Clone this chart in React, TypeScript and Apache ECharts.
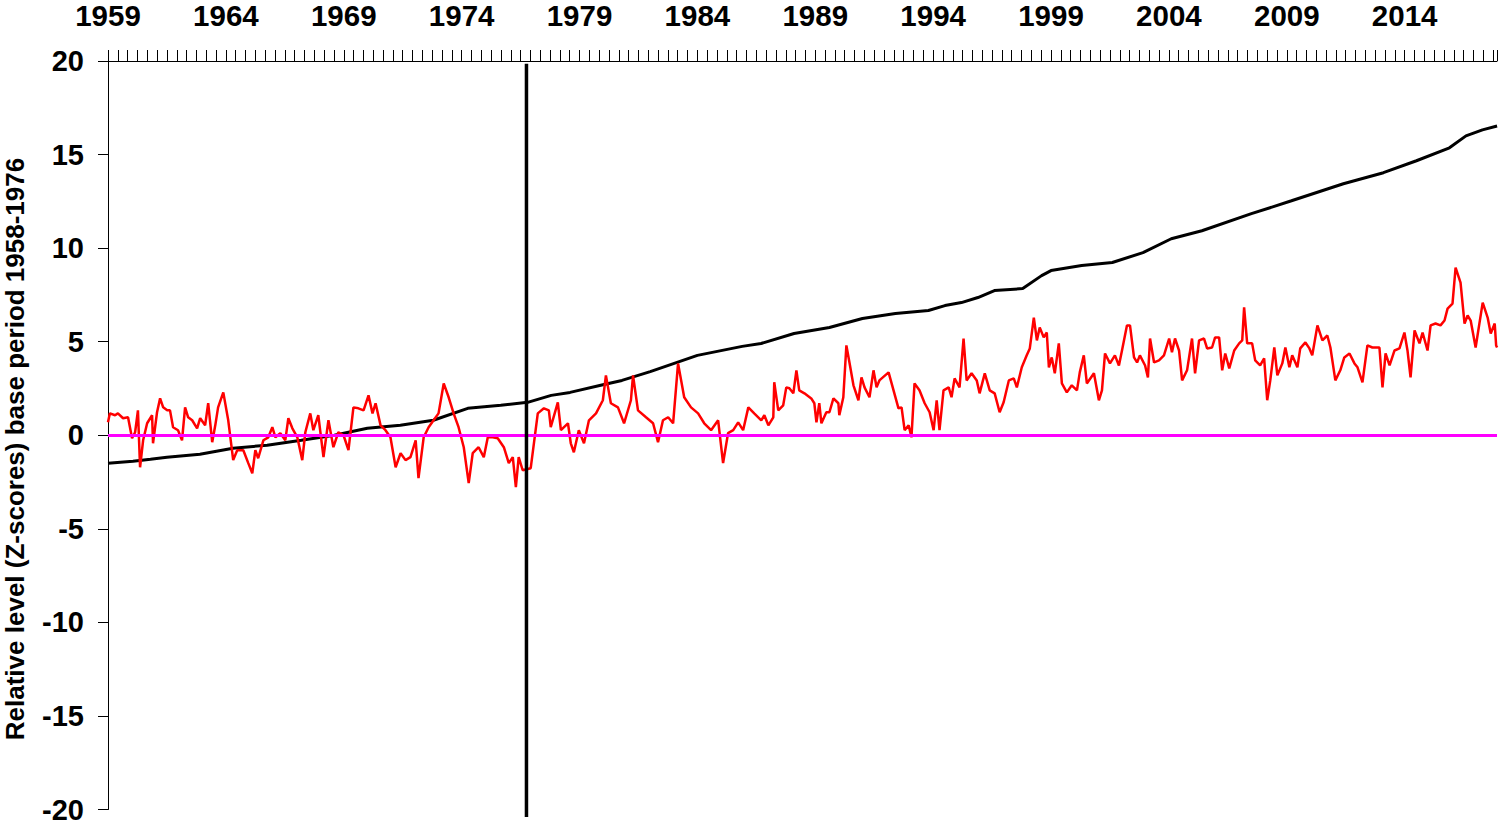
import React, { useEffect, useRef } from 'react';
import * as echarts from 'echarts';

const startYear = 1959;
const lastMonth = 707;
const yearLabels = ['1959', '1964', '1969', '1974', '1979', '1984', '1989', '1994', '1999', '2004', '2009', '2014'];
const yMin = -20;
const yMax = 20;
const yStep = 5;
const axisTitle = 'Relative level (Z-scores) base period 1958-1976';

const cumulativeYears = [
  1959.0, 1960.06, 1960.8, 1961.5, 1962.9, 1964.3, 1965.75, 1967.2, 1968.6, 1970.0,
  1971.4, 1972.8, 1974.26, 1975.66, 1976.8, 1977.8, 1978.6, 1979.9, 1980.8, 1982.0,
  1984.0, 1985.9, 1986.7, 1988.1, 1989.6, 1991.0, 1992.4, 1993.8, 1994.5, 1995.2,
  1995.9, 1996.6, 1997.8, 1998.6, 1999.0, 2000.3, 2001.6, 2002.9, 2004.1, 2005.4,
  2007.5, 2009.2, 2011.4, 2013.1, 2014.5, 2015.9, 2016.6, 2017.3, 2017.92,
];
const cumulativeValues = [
  -1.49, -1.39, -1.28, -1.17, -1.01, -0.69, -0.53, -0.27, 0.0, 0.37,
  0.53, 0.8, 1.44, 1.6, 1.76, 2.13, 2.29, 2.67, 2.93, 3.4,
  4.27, 4.75, 4.9, 5.44, 5.76, 6.24, 6.51, 6.67, 6.93, 7.09,
  7.36, 7.73, 7.84, 8.53, 8.8, 9.07, 9.23, 9.76, 10.5, 10.93,
  11.84, 12.53, 13.44, 14.03, 14.67, 15.36, 16.0, 16.32, 16.53,
];

const zscoreYears = [
  1959.0, 1959.08, 1959.3, 1959.42, 1959.64, 1959.85, 1960.02, 1960.15, 1960.27, 1960.36,
  1960.49, 1960.66, 1960.87, 1960.91, 1961.08, 1961.21, 1961.34, 1961.51, 1961.63, 1961.76,
  1961.97, 1962.14, 1962.27, 1962.4, 1962.57, 1962.78, 1962.91, 1963.12, 1963.25, 1963.42,
  1963.55, 1963.67, 1963.89, 1964.1, 1964.31, 1964.48, 1964.74, 1964.95, 1965.12, 1965.25,
  1965.37, 1965.59, 1965.8, 1965.97, 1966.1, 1966.31, 1966.52, 1966.65, 1966.82, 1967.03,
  1967.24, 1967.37, 1967.58, 1967.71, 1967.92, 1968.14, 1968.35, 1968.56, 1968.77, 1968.99,
  1969.2, 1969.41, 1969.62, 1969.84, 1970.05, 1970.22, 1970.35, 1970.56, 1970.77, 1970.98,
  1971.2, 1971.41, 1971.62, 1971.83, 1972.05, 1972.17, 1972.39, 1972.6, 1972.81, 1973.02,
  1973.24, 1973.45, 1973.66, 1973.87, 1974.09, 1974.3, 1974.47, 1974.72, 1974.94, 1975.11,
  1975.32, 1975.53, 1975.79, 1976.0, 1976.17, 1976.3, 1976.42, 1976.59, 1976.93, 1977.23,
  1977.49, 1977.7, 1977.78, 1978.08, 1978.21, 1978.51, 1978.63, 1978.76, 1978.97, 1979.19,
  1979.4, 1979.7, 1979.99, 1980.12, 1980.33, 1980.63, 1980.89, 1981.18, 1981.27, 1981.48,
  1981.82, 1982.12, 1982.33, 1982.54, 1982.76, 1982.97, 1983.18, 1983.44, 1983.73, 1984.03,
  1984.29, 1984.58, 1984.88, 1985.09, 1985.3, 1985.52, 1985.73, 1985.94, 1986.16, 1986.41,
  1986.71,
  1986.84, 1987.01, 1987.22, 1987.26, 1987.43, 1987.64, 1987.77, 1987.9, 1988.07, 1988.2,
  1988.32, 1988.54, 1988.83, 1988.96, 1989.05, 1989.17, 1989.26, 1989.47, 1989.6, 1989.77,
  1989.98, 1990.02, 1990.19, 1990.32, 1990.45, 1990.62, 1990.83, 1990.96, 1991.09, 1991.3,
  1991.47, 1991.6, 1991.72, 1992.11, 1992.32, 1992.53, 1992.66, 1992.79, 1992.96, 1993.08,
  1993.21, 1993.42, 1993.64, 1993.85, 1994.02, 1994.15, 1994.27, 1994.44, 1994.66, 1994.78,
  1994.91, 1995.12, 1995.29, 1995.42, 1995.63, 1995.85, 1995.97, 1996.19, 1996.4, 1996.61,
  1996.82, 1996.99, 1997.21, 1997.42, 1997.55, 1997.76, 1997.97, 1998.1, 1998.27, 1998.4,
  1998.52, 1998.69, 1998.82, 1998.91, 1999.03, 1999.16, 1999.33, 1999.46, 1999.67, 1999.88,
  2000.1, 2000.22, 2000.39, 2000.52, 2000.82, 2001.03, 2001.16, 2001.29, 2001.5, 2001.71,
  2001.88, 2002.01, 2002.22, 2002.35, 2002.52, 2002.65, 2002.77, 2002.99, 2003.11, 2003.2,
  2003.37, 2003.58, 2003.79, 2004.01, 2004.13, 2004.26, 2004.43, 2004.56, 2004.77, 2004.98,
  2005.11, 2005.28, 2005.49, 2005.62, 2005.83, 2005.96, 2006.13, 2006.26, 2006.39, 2006.56,
  2006.77, 2006.98, 2007.11, 2007.19, 2007.32, 2007.53, 2007.66, 2007.87, 2008.04, 2008.17,
  2008.3, 2008.47, 2008.6, 2008.81, 2008.94, 2009.11, 2009.23, 2009.45, 2009.57, 2009.79,
  2009.96, 2010.08, 2010.3, 2010.51, 2010.72, 2010.85, 2011.06, 2011.27, 2011.44, 2011.66,
  2011.87, 2012.0, 2012.21, 2012.42, 2012.63, 2012.93, 2013.06, 2013.19, 2013.36, 2013.57,
  2013.78, 2013.99, 2014.12, 2014.25, 2014.42, 2014.63, 2014.76, 2014.97, 2015.1, 2015.31,
  2015.52, 2015.69, 2015.82, 2016.03, 2016.16, 2016.37, 2016.54, 2016.67, 2016.8, 2017.01,
  2017.31, 2017.52, 2017.65, 2017.82, 2017.88, 2017.92,
];
const zscoreValues = [
  0.69, 1.17, 1.07, 1.17, 0.91, 0.96, -0.16, 0.16, 1.33, -1.71,
  -0.27, 0.64, 1.07, -0.43, 1.23, 1.97, 1.49, 1.33, 1.33, 0.43,
  0.27, -0.27, 1.49, 0.96, 0.8, 0.37, 0.91, 0.53, 1.71, -0.37,
  0.53, 1.49, 2.29, 0.8, -1.33, -0.8, -0.8, -1.49, -2.03, -0.8,
  -1.23, -0.27, -0.11, 0.43, -0.11, 0.11, -0.27, 0.91, 0.37, -0.11,
  -1.33, 0.16, 1.17, 0.27, 1.07, -1.17, 0.8, -0.64, 0.16, 0.0,
  -0.8, 1.49, 1.44, 1.33, 2.13, 1.17, 1.71, 0.53, 0.27, -0.11,
  -1.71, -0.96, -1.33, -1.17, -0.27, -2.29, -0.11, 0.43, 0.8, 1.17,
  2.77, 2.03, 1.17, 0.43, -0.64, -2.56, -0.96, -0.64, -1.17, -0.11,
  -0.11, -0.16, -0.64, -1.49, -1.17, -2.77, -1.17, -1.87, -1.76, 1.17,
  1.44, 1.33, 0.43, 1.76, 0.27, 0.64, -0.43, -0.91, 0.27, -0.43,
  0.8, 1.17, 1.87, 3.2, 1.71, 1.49, 0.64, 1.87, 3.2, 1.33,
  0.96, 0.64, -0.37, 0.8, 0.96, 0.64, 3.84, 2.03, 1.49, 1.17,
  0.64, 0.27, 0.8, -1.49, 0.11, 0.27, 0.69, 0.27, 1.49, 1.17,
  0.8,
  1.07, 0.53, 0.96, 2.83, 1.33, 1.6, 2.56, 2.51, 2.24, 3.47,
  2.4, 2.24, 1.97, 1.71, 0.69, 1.71, 0.64, 1.23, 1.23, 1.97,
  1.71, 1.07, 2.03, 4.8, 3.89, 2.67, 1.87, 3.09, 2.56, 2.03,
  3.47, 2.56, 2.93, 3.36, 2.4, 1.44, 1.49, 0.27, 0.53, -0.11,
  2.77, 2.4, 1.71, 1.23, 0.27, 1.87, 0.27, 2.4, 2.56, 2.03,
  3.04, 2.56, 5.17, 2.93, 3.31, 2.93, 2.24, 3.31, 2.4, 2.24,
  1.23, 1.76, 2.93, 3.04, 2.56, 3.63, 4.27, 4.64, 6.29, 5.07,
  5.76, 5.23, 5.49, 3.63, 4.16, 3.31, 4.91, 2.77, 2.29, 2.67,
  2.4, 3.36, 4.27, 2.77, 3.31, 1.87, 2.4, 4.37, 3.84, 4.27,
  3.73, 4.53, 5.87, 5.87, 4.16, 3.89, 4.27, 3.73, 3.09, 5.17,
  3.89, 4.0, 4.27, 5.17, 4.43, 5.17, 4.53, 2.93, 3.47, 5.17,
  3.31, 5.07, 5.17, 4.64, 4.69, 5.23, 5.23, 3.47, 4.37, 3.57,
  4.53, 4.91, 5.07, 6.83, 4.91, 4.91, 4.0, 3.73, 4.11, 1.87,
  2.93, 4.69, 3.2, 3.84, 4.69, 3.63, 4.27, 3.63, 4.64, 4.96,
  4.64, 4.27, 5.87, 5.07, 5.33, 4.69, 2.93, 3.47, 4.16, 4.37,
  3.84, 3.63, 2.83, 4.8, 4.69, 4.69, 2.56, 4.37, 3.73, 4.53,
  4.64, 5.49, 4.53, 3.09, 5.6, 4.91, 5.49, 4.53, 5.87, 5.97,
  5.87, 6.13, 6.77, 7.04, 8.96, 8.16, 5.97, 6.4, 6.13, 4.69,
  7.09, 6.29, 5.44, 5.97, 4.8, 4.69,
];

const baseEndYear = 1976.75;
const baseMarkerSpan = [19.85, -20.4];
const zeroLevel = 0;

const toMonth = (year: number) => (year - startYear) * 12;

export default function App() {
  const ref = useRef<HTMLDivElement>(null);

  useEffect(() => {
    document.body.style.margin = '0';
    if (!ref.current) return;
    const chart = echarts.init(ref.current, undefined, { renderer: 'svg' });
    const font = '"Liberation Sans", Arial, sans-serif';

    const cumulativeData = cumulativeYears.map((y, i) => [toMonth(y), cumulativeValues[i]]);
    const zscoreData = zscoreYears.map((y, i) => [toMonth(y), zscoreValues[i]]);
    const baseMarkerData = baseMarkerSpan.map((v) => [toMonth(baseEndYear), v]);

    chart.setOption({
      animation: false,
      backgroundColor: '#ffffff',
      grid: { left: 108, right: 3, top: 59, bottom: 13, containLabel: false },
      xAxis: {
        type: 'value',
        position: 'top',
        min: 0,
        max: lastMonth,
        interval: 5,
        axisLine: { show: true, onZero: false, lineStyle: { color: '#000', width: 1 } },
        axisTick: { show: true, length: 11, lineStyle: { color: '#000', width: 1 } },
        splitLine: { show: false },
        axisLabel: {
          show: true,
          margin: 31,
          color: '#000',
          fontFamily: font,
          fontSize: 29.5,
          fontWeight: 'bold',
          showMinLabel: true,
          showMaxLabel: true,
          formatter: (v: number) => (v % 60 === 0 ? yearLabels[v / 60] ?? '' : ''),
        },
      },
      yAxis: {
        type: 'value',
        min: yMin,
        max: yMax,
        interval: yStep,
        axisLine: { show: true, onZero: false, lineStyle: { color: '#000', width: 1 } },
        axisTick: { show: true, length: 10, lineStyle: { color: '#000', width: 1 } },
        splitLine: { show: false },
        axisLabel: {
          margin: 24,
          color: '#000',
          fontFamily: font,
          fontSize: 29,
          fontWeight: 'bold',
        },
      },
      graphic: [
        {
          type: 'text',
          x: 15,
          y: 449,
          rotation: Math.PI / 2,
          style: {
            text: axisTitle,
            font: `bold 26px ${font}`,
            lineHeight: 26,
            fill: '#000',
            textAlign: 'center',
            textVerticalAlign: 'middle',
          },
        },
      ],
      series: [
        {
          type: 'line',
          name: 'cumulative',
          data: cumulativeData,
          showSymbol: false,
          symbol: 'none',
          z: 2,
          lineStyle: { color: '#000000', width: 3 },
          markLine: {
            silent: true,
            symbol: ['none', 'none'],
            label: { show: false },
            lineStyle: { color: '#ff00ff', width: 3, type: 'solid' },
            data: [{ yAxis: zeroLevel }],
          },
        },
        {
          type: 'line',
          name: 'zscore',
          data: zscoreData,
          showSymbol: false,
          symbol: 'none',
          z: 3,
          lineStyle: { color: '#ff0000', width: 2.5 },
        },
        {
          type: 'line',
          name: 'base',
          data: baseMarkerData,
          clip: false,
          showSymbol: false,
          symbol: 'none',
          z: 5,
          lineStyle: { color: '#000000', width: 3.5 },
        },
      ],
    });

    return () => chart.dispose();
  }, []);

  return <div ref={ref} style={{ width: 1500, height: 824 }} />;
}
